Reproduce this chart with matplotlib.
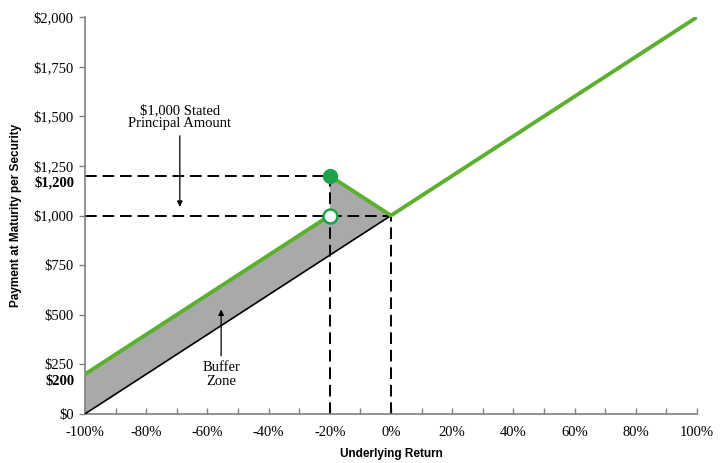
import matplotlib
matplotlib.use("Agg")
from matplotlib import pyplot as plt

# underlying return (%) and payment ($)
payoff_x_low = [-100, -20]
payoff_y_low = [200, 1000]
payoff_x_high = [-20, 0, 100]
payoff_y_high = [1200, 1000, 2000]
underlying_x = [-100, 0]
underlying_y = [0, 1000]
buffer_x = [-100, -100, -20, -20, 0]
buffer_y = [0, 200, 1000, 1200, 1000]

x_ticks = [-100, -80, -60, -40, -20, 0, 20, 40, 60, 80, 100]
x_labels = ["-100%", "-80%", "-60%", "-40%", "-20%", "0%", "20%", "40%", "60%", "80%", "100%"]
y_ticks = [0, 250, 500, 750, 1000, 1250, 1500, 1750, 2000]
y_labels = ["$0", "$250", "$500", "$750", "$1,000", "$1,250", "$1,500", "$1,750", "$2,000"]
bold_ticks = [200, 1200]
bold_labels = ["$200", "$1,200"]

green = "#5cb030"
serif = "Liberation Serif"
sans = "Liberation Sans"


def main():
    fig = plt.figure(figsize=(7.2, 4.63), dpi=100)
    ax = fig.add_axes([0.118, 0.106, 0.85, 0.857])

    ax.fill(buffer_x, buffer_y, color="#a9a9a9", lw=0, zorder=1)
    ax.plot(underlying_x, underlying_y, color="black", lw=1.2, zorder=3)

    dash = dict(color="black", lw=1.4, ls=(0, (6, 3)), zorder=2)
    ax.plot([-100, -20], [1200, 1200], **dash)
    ax.plot([-100, 0], [1000, 1000], **dash)
    ax.plot([-20, -20], [0, 1200], **dash)
    ax.plot([0, 0], [0, 1000], **dash)

    ax.plot(payoff_x_low, payoff_y_low, color=green, lw=2.8, zorder=4, solid_capstyle="butt")
    ax.plot(payoff_x_high, payoff_y_high, color=green, lw=2.8, zorder=4, solid_capstyle="butt")
    ax.plot([-20], [1200], "o", ms=10, color="#1aa34a", zorder=5)
    ax.plot([-20], [1000], "o", ms=10, mfc="white", mec="#1aa34a", mew=1.8, zorder=5)

    ax.annotate("$1,000 Stated\nPrincipal Amount", xy=(-69, 1030), xytext=(-69, 1430),
                ha="center", va="bottom", fontsize=10.5, family=serif, linespacing=1.05,
                arrowprops=dict(arrowstyle="-|>", color="black", lw=0.9, mutation_scale=8))
    ax.annotate("Buffer\nZone", xy=(-55.5, 540), xytext=(-55.5, 265),
                ha="center", va="top", fontsize=10.5, family=serif, linespacing=1.05,
                arrowprops=dict(arrowstyle="-|>", color="black", lw=0.9, mutation_scale=8))

    ax.set_xlim(-100, 100)
    ax.set_ylim(0, 2000)
    ax.set_xticks(x_ticks, x_labels, family=serif, fontsize=10.5)
    ax.set_xticks(range(-90, 100, 20), minor=True)
    ax.set_yticks(y_ticks, y_labels, family=serif, fontsize=10.5)

    for v, s in zip(bold_ticks, bold_labels):
        ax.text(-0.017, v - 35, s, transform=ax.get_yaxis_transform(), ha="right", va="center",
                family=serif, fontsize=10.5, fontweight="bold")

    for side in ["top", "right"]:
        ax.spines[side].set_visible(False)
    for side in ["left", "bottom"]:
        ax.spines[side].set_color("#808080")
        ax.spines[side].set_linewidth(1.2)
    ax.tick_params(axis="x", which="both", direction="in", color="#808080", length=4, width=1, pad=9)
    ax.tick_params(axis="y", direction="out", color="#808080", length=4, width=1, pad=4)

    ax.set_xlabel("Underlying Return", family=sans, fontweight="bold", fontsize=8.5, labelpad=6)
    ax.set_ylabel("Payment at Maturity per Security", family=sans, fontweight="bold", fontsize=8.5, labelpad=8)

    fig.savefig("out.png", dpi=100)


if __name__ == '__main__':
    main()
